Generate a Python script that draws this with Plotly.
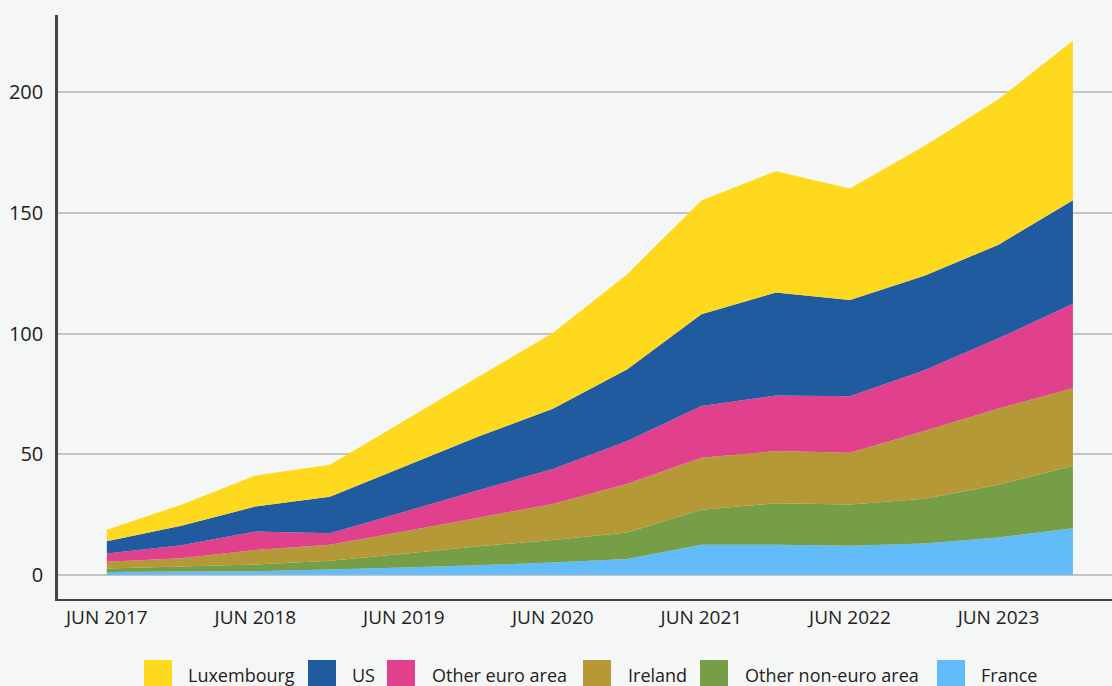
import plotly.graph_objects as go

# ---- data ----
periods = ["2017-06", "2017-12", "2018-06", "2018-12", "2019-06", "2019-12",
           "2020-06", "2020-12", "2021-06", "2021-12", "2022-06", "2022-12",
           "2023-06", "2023-12"]
tick_periods = ["2017-06", "2018-06", "2019-06", "2020-06", "2021-06", "2022-06", "2023-06"]
tick_labels = ["JUN 2017", "JUN 2018", "JUN 2019", "JUN 2020", "JUN 2021", "JUN 2022", "JUN 2023"]

france = [1.2, 1.4, 1.5, 2.2, 3.1, 4.0, 5.1, 6.6, 12.5, 12.5, 12.1, 13.0, 15.5, 19.3]
other_non_euro = [1.4, 2.1, 2.8, 3.7, 5.7, 7.9, 9.3, 11.0, 14.5, 17.2, 17.1, 18.5, 21.8, 25.9]
ireland = [2.8, 3.4, 6.0, 6.6, 9.2, 11.8, 15.0, 20.2, 21.5, 21.6, 21.4, 28.1, 31.6, 32.1]
other_euro = [3.5, 5.4, 7.7, 4.7, 8.1, 11.4, 14.5, 17.7, 21.5, 23.0, 23.4, 25.2, 29.1, 35.0]
us = [5.0, 8.1, 10.3, 15.2, 18.7, 22.2, 24.9, 29.7, 38.0, 42.7, 39.9, 39.1, 38.8, 42.9]
luxembourg = [4.8, 8.7, 12.9, 13.2, 19.0, 24.8, 31.4, 39.4, 47.1, 50.3, 46.2, 53.8, 60.3, 66.1]

series = [
    ("France", france, "rgba(93,186,250,0.97)"),
    ("Other non-euro area", other_non_euro, "rgba(114,155,65,0.97)"),
    ("Ireland", ireland, "rgba(179,150,49,0.97)"),
    ("Other euro area", other_euro, "rgba(224,59,136,0.97)"),
    ("US", us, "rgba(25,86,156,0.97)"),
    ("Luxembourg", luxembourg, "rgba(254,216,23,0.97)"),
]

legend_order = ["Luxembourg", "US", "Other euro area", "Ireland", "Other non-euro area", "France"]

BG = "#F5F7F6"
FONT = "Open Sans"

fig = go.Figure()
for name, vals, col in series:
    fig.add_trace(go.Scatter(
        x=periods, y=vals, name=name, stackgroup="one", mode="none",
        fillcolor=col, line=dict(width=0), showlegend=False,
        hovertemplate="%{y}<extra>" + name + "</extra>",
    ))

W, H = 1112, 686
ml, mr, mt, mb = 58, 0, 15, 87
pw, ph = W - ml - mr, H - mt - mb

def px_to_paper_x(px):
    return (px - ml) / pw

def py_to_paper_y(py):
    return (H - mb - py) / ph

colors = {n: c for n, _, c in series}
legend_pos = [(144, 186), (308, 350), (387, 430), (583, 626), (700, 743), (937, 979)]
shapes = []
annotations = []
for name, (sx, tx) in zip(legend_order, legend_pos):
    shapes.append(dict(
        type="rect", xref="paper", yref="paper",
        x0=px_to_paper_x(sx), x1=px_to_paper_x(sx + 28),
        y0=py_to_paper_y(660), y1=py_to_paper_y(692),
        fillcolor=colors[name], line=dict(width=0), layer="above",
    ))
    annotations.append(dict(
        text=name, xref="paper", yref="paper",
        x=px_to_paper_x(tx), y=py_to_paper_y(675),
        xanchor="left", yanchor="middle", showarrow=False,
        font=dict(family=FONT, size=18, color="#222222"),
    ))

fig.update_layout(
    width=W, height=H,
    margin=dict(l=ml, r=mr, t=mt, b=mb),
    paper_bgcolor=BG, plot_bgcolor=BG,
    font=dict(family=FONT, color="#222222"),
    shapes=shapes, annotations=annotations,
    showlegend=False,
    xaxis=dict(
        type="date",
        range=["2017-02-01", "2024-03-06"],
        tickvals=tick_periods, ticktext=tick_labels,
        showgrid=False, zeroline=False,
        showline=True, linecolor="#444444", linewidth=2,
        ticks="",
        tickfont=dict(family=FONT, size=19, color="#222222"),
    ),
    yaxis=dict(
        range=[-10, 232],
        tickvals=[0, 50, 100, 150, 200],
        showgrid=True, gridcolor="#C4C4C4", gridwidth=1.5,
        zeroline=False,
        showline=True, linecolor="#444444", linewidth=2.5,
        ticks="outside", ticklen=8, tickcolor="rgba(0,0,0,0)",
        tickfont=dict(family=FONT, size=20, color="#222222"),
    ),
)

fig.write_html(
    "out.html",
    config={"displayModeBar": False},
    post_script="document.body.style.margin='0';document.body.style.overflow='hidden';"
                "document.body.style.background='" + BG + "';",
)
